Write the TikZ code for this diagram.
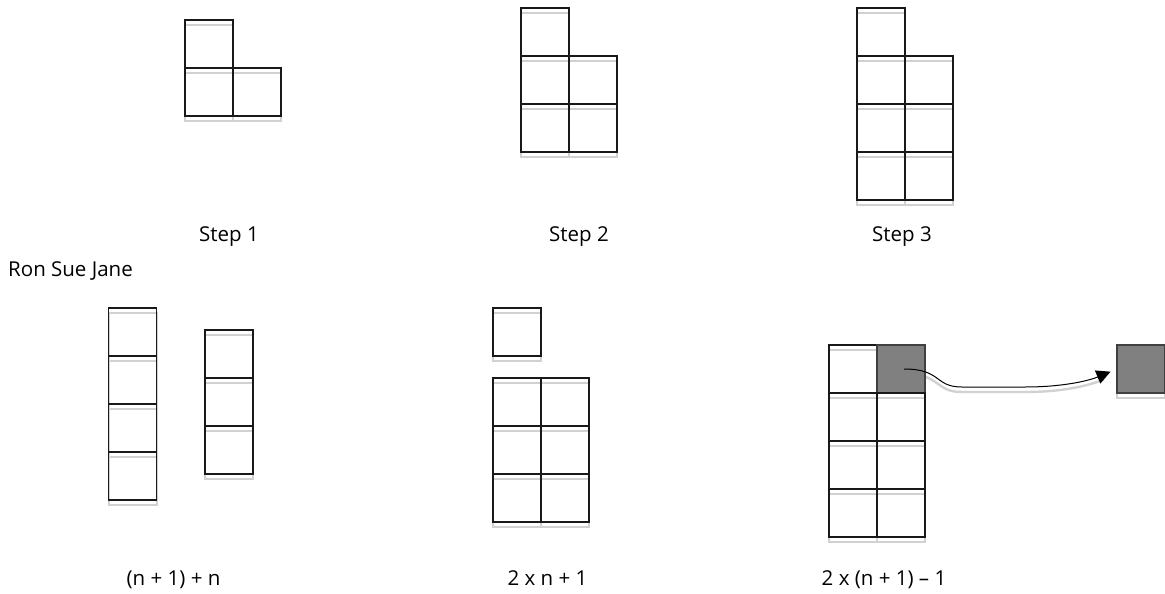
\documentclass[tikz,border=0pt]{standalone}
\usepackage{fontspec}
\setmainfont{Open Sans}
\usetikzlibrary{arrows.meta}
\tikzset{
  cell/.style={draw=black!90,line width=1.2pt,minimum size=48pt,inner sep=0pt,outer sep=0pt,
    preaction={draw=black!18,line width=2.4pt,transform canvas={yshift=-5pt}}},
  dark/.style={cell,fill=black!50,draw=black!75},
  lbl/.style={font=\fontsize{20.5pt}{24pt}\selectfont,inner sep=0pt,anchor=base},
  link/.style={draw=black,line width=1pt,-{Triangle[length=14pt,width=14pt]},shorten >=7pt},
  linkshade/.style={draw=black!18,line width=2.4pt,shorten >=14pt,transform canvas={yshift=-5pt}}
}
\begin{document}
\begin{tikzpicture}[x=1pt,y=-1pt]
  \useasboundingbox (0,0) rectangle (1165,594);
  % 上段: Step 1..3
  \foreach \x/\y/\n in {209/44/a,209/92/b,257/92/c}
    \node[cell] (s1\n) at (\x,\y) {};
  \foreach \x/\y/\n in {545/32/a,545/80/b,593/80/c,545/128/d,593/128/e}
    \node[cell] (s2\n) at (\x,\y) {};
  \foreach \x/\y/\n in {881/32/a,881/80/b,929/80/c,881/128/d,929/128/e,881/176/f,929/176/g}
    \node[cell] (s3\n) at (\x,\y) {};
  \node[lbl] (st1) at (229,241) {Step 1};
  \node[lbl] (st2) at (579,241) {Step 2};
  \node[lbl] (st3) at (902,241) {Step 3};
  \node[lbl,anchor=base west] (who) at (8,276) {Ron Sue Jane};
  % 下段左: (n+1)+n
  \foreach \y/\n in {332/a,380/b,428/c,476/d}
    \node[cell] (ra\n) at (132.7,\y) {};
  \foreach \y/\n in {354/a,402/b,450/c}
    \node[cell] (rb\n) at (229,\y) {};
  % 下段中: 2n+1
  \node[cell] (su0) at (517,332) {};
  \foreach \y/\n in {402/a,450/b,498/c} {
    \node[cell] (sa\n) at (517,\y) {};
    \node[cell] (sb\n) at (565,\y) {};
  }
  % 下段右: 2(n+1)-1, 影は先に描いて灰色の枡で隠す
  \node[dark] (out) at (1141,369) {};
  \coordinate (src) at (904,369);
  \def\bend{(src) .. controls (942,369) and (934,387) .. (962,387) -- (1025,387) .. controls (1062,387) and (1088,381) .. (out.west)}
  \draw[linkshade] \bend;
  \node[cell] (ja1) at (853,369) {};
  \node[dark] (jb1) at (901,369) {};
  \foreach \y/\n in {417/2,465/3,513/4} {
    \node[cell] (ja\n) at (853,\y) {};
    \node[cell] (jb\n) at (901,\y) {};
  }
  \draw[link] \bend;
  \node[lbl] (f1) at (173.5,585) {(n + 1) + n};
  \node[lbl] (f2) at (547.5,585) {2 x n + 1};
  \node[lbl] (f3) at (884,585) {2 x (n + 1) – 1};
\end{tikzpicture}
\end{document}
